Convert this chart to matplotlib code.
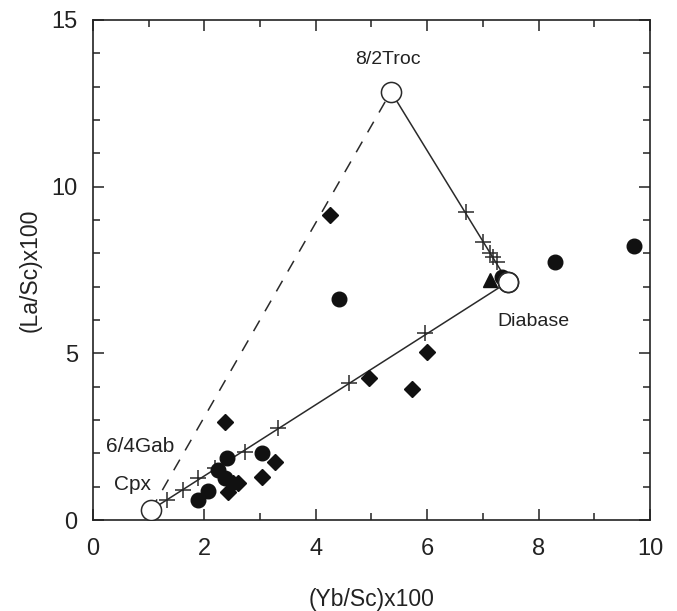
import matplotlib
matplotlib.use("Agg")
import matplotlib.pyplot as plt
from matplotlib.ticker import MultipleLocator

plt.rcParams['font.family'] = ['Liberation Sans', 'DejaVu Sans']

# End-member compositions
end_names = ["Cpx", "8/2Troc", "Diabase"]
end_x = [1.04, 5.35, 7.45]
end_y = [0.30, 12.85, 7.14]

# Mixing-curve increments (crosses)
mix_low_x = [1.32, 1.62, 1.89, 2.19, 2.73, 3.32, 4.60, 5.96]
mix_low_y = [0.60, 0.90, 1.26, 1.56, 2.04, 2.76, 4.11, 5.61]
mix_up_x = [6.70, 7.00, 7.13, 7.18, 7.25]
mix_up_y = [9.24, 8.34, 8.00, 7.90, 7.74]

# Samples: circles
circ_x = [9.71, 8.29, 4.42, 2.40, 3.03, 1.88, 2.06, 2.24, 2.37, 7.35]
circ_y = [8.22, 7.74, 6.63, 1.85, 2.00, 0.60, 0.88, 1.50, 1.25, 7.30]

# Samples: diamonds
diam_x = [4.26, 2.37, 3.27, 3.03, 4.96, 5.73, 6.00, 2.51, 2.60, 2.42, 7.45]
diam_y = [9.15, 2.95, 1.74, 1.30, 4.26, 3.93, 5.04, 1.10, 1.10, 0.85, 7.15]

# Samples: triangles
tri_x = [7.13]
tri_y = [7.20]

fig = plt.figure(figsize=(6.77, 6.11), dpi=100)
ax = fig.add_axes([0.1374, 0.1489, 0.8226, 0.8184])

lc = '#2a2a2a'
# Dashed Cpx -> 8/2Troc, solid 8/2Troc -> Diabase and Cpx -> Diabase
ax.plot([end_x[0], end_x[1]], [end_y[0], end_y[1]], ls=(0, (8, 7)), color=lc, lw=1.1, zorder=1)
ax.plot([end_x[1], end_x[2]], [end_y[1], end_y[2]], color=lc, lw=1.1, zorder=1)
ax.plot([end_x[0], end_x[2]], [end_y[0], end_y[2]], color=lc, lw=1.1, zorder=1)

ax.plot(mix_low_x, mix_low_y, ls='none', marker='+', ms=11, mew=1.1, color=lc, zorder=2)
ax.plot(mix_up_x, mix_up_y, ls='none', marker='+', ms=11, mew=1.1, color=lc, zorder=2)

ax.plot(circ_x, circ_y, ls='none', marker='o', ms=10.5, color='#111111', zorder=3)
ax.plot(diam_x, diam_y, ls='none', marker='D', ms=8, color='#111111', zorder=3)
ax.plot(tri_x, tri_y, ls='none', marker='^', ms=9.5, color='#111111', zorder=3)

ax.plot(end_x, end_y, ls='none', marker='o', ms=14.5, mfc='white', mec=lc, mew=1.1, zorder=4)
ax.plot([end_x[2]], [end_y[2]], ls='none', marker='o', ms=14.5, mfc='none', mec=lc, mew=1.1, zorder=5)

ax.text(5.3, 13.8, "8/2Troc", ha='center', va='center', fontsize=14, color='#222222')
ax.text(7.9, 5.95, "Diabase", ha='center', va='center', fontsize=14, color='#222222')
ax.text(0.84, 2.2, "6/4Gab", ha='center', va='center', fontsize=15, color='#222222')
ax.text(0.7, 1.08, "Cpx", ha='center', va='center', fontsize=15, color='#222222')

ax.set_xlim(0, 10)
ax.set_ylim(0, 15)
ax.xaxis.set_major_locator(MultipleLocator(2))
ax.xaxis.set_minor_locator(MultipleLocator(1))
ax.yaxis.set_major_locator(MultipleLocator(5))
ax.yaxis.set_minor_locator(MultipleLocator(1))
ax.tick_params(which='both', direction='in', top=True, right=True, colors='#222222', labelsize=17)
ax.tick_params(axis='x', which='major', length=8, width=1.1, pad=13)
ax.tick_params(axis='y', which='major', length=8, width=1.1, pad=11)
ax.tick_params(which='minor', length=5, width=1.1)
for s in ax.spines.values():
    s.set_linewidth(1.2)
    s.set_color('#222222')

ax.set_xlabel("(Yb/Sc)x100", fontsize=16.5, color='#222222', labelpad=20)
ax.set_ylabel("(La/Sc)x100", fontsize=16.5, color='#222222', labelpad=7)

fig.savefig("out.png", dpi=100)
